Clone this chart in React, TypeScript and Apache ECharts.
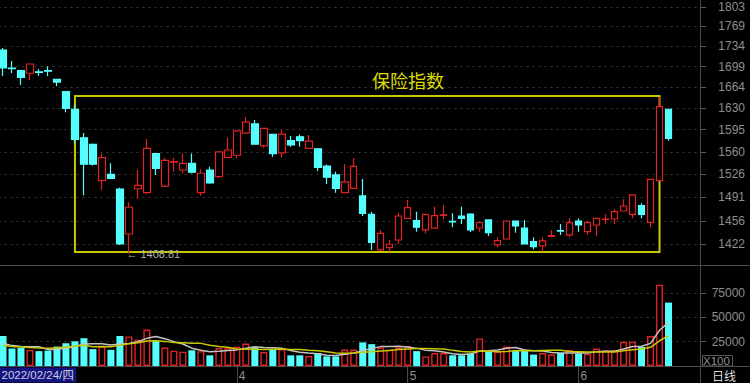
import React, { useEffect, useRef } from "react";
import * as echarts from "echarts";

// ---- data ----
const dates = [
  "2022-02-24", "2022-02-25", "2022-02-28",
  "2022-03-01", "2022-03-02", "2022-03-03", "2022-03-04", "2022-03-07", "2022-03-08", "2022-03-09", "2022-03-10", "2022-03-11",
  "2022-03-14", "2022-03-15", "2022-03-16", "2022-03-17", "2022-03-18", "2022-03-21", "2022-03-22", "2022-03-23", "2022-03-24",
  "2022-03-25", "2022-03-28", "2022-03-29", "2022-03-30", "2022-03-31",
  "2022-04-01", "2022-04-06", "2022-04-07", "2022-04-08", "2022-04-11", "2022-04-12", "2022-04-13", "2022-04-14", "2022-04-15",
  "2022-04-18", "2022-04-19", "2022-04-20", "2022-04-21", "2022-04-22", "2022-04-25", "2022-04-26", "2022-04-27", "2022-04-28",
  "2022-04-29",
  "2022-05-05", "2022-05-06", "2022-05-09", "2022-05-10", "2022-05-11", "2022-05-12", "2022-05-13", "2022-05-16", "2022-05-17",
  "2022-05-18", "2022-05-19", "2022-05-20", "2022-05-23", "2022-05-24", "2022-05-25", "2022-05-26", "2022-05-27", "2022-05-30",
  "2022-05-31",
  "2022-06-01", "2022-06-02", "2022-06-06", "2022-06-07", "2022-06-08", "2022-06-09", "2022-06-10", "2022-06-13", "2022-06-14",
  "2022-06-15", "2022-06-16",
];

const opens = [
  1727.3, 1696.5, 1691.9, 1687.6, 1690.0, 1692.0, 1677.4, 1656.8, 1627.9, 1582.2,
  1571.6, 1515.7, 1525.4, 1503.1, 1437.0, 1503.5, 1497.6, 1557.4, 1507.5, 1544.0,
  1532.0, 1542.0, 1497.6, 1532.0, 1521.7, 1551.5, 1554.7, 1589.6, 1604.2, 1569.4,
  1587.5, 1558.3, 1577.5, 1583.8, 1565.4, 1564.8, 1538.0, 1524.4, 1497.6, 1504.1,
  1492.7, 1465.6, 1414.2, 1417.5, 1428.4, 1459.7, 1456.2, 1442.8, 1445.3, 1464.0,
  1455.3, 1463.1, 1466.0, 1445.6, 1457.3, 1421.3, 1429.8, 1455.8, 1445.3, 1426.0,
  1419.9, 1433.6, 1442.0, 1435.6, 1455.8, 1440.3, 1450.0, 1458.0, 1458.7, 1470.4,
  1465.6, 1478.2, 1453.9, 1515.7, 1627.9,
];
const closes = [
  1696.5, 1695.5, 1680.8, 1703.3, 1689.0, 1691.0, 1672.8, 1629.5, 1579.7, 1540.9,
  1540.9, 1551.0, 1519.3, 1422.7, 1475.9, 1508.6, 1565.4, 1534.6, 1546.9, 1545.0,
  1542.0, 1528.5, 1527.0, 1512.3, 1560.0, 1562.9, 1593.0, 1607.0, 1572.1, 1597.2,
  1557.4, 1588.0, 1570.8, 1577.5, 1577.0, 1536.1, 1520.9, 1504.1, 1513.8, 1537.6,
  1467.0, 1425.1, 1438.0, 1422.3, 1463.1, 1475.3, 1446.7, 1465.6, 1463.6, 1464.6,
  1454.5, 1459.7, 1442.8, 1453.6, 1438.9, 1427.4, 1455.8, 1448.5, 1422.7, 1418.9,
  1427.0, 1434.6, 1441.2, 1453.3, 1450.0, 1453.9, 1459.7, 1458.7, 1469.4, 1477.8,
  1494.2, 1465.6, 1517.8, 1632.1, 1581.3,
];
const lows = [
  1683.0, 1688.1, 1667.9, 1676.2, 1683.5, 1683.0, 1665.9, 1623.0, 1573.5, 1493.9,
  1539.0, 1501.6, 1518.0, 1421.3, 1408.81, 1489.0, 1495.7, 1524.4, 1506.0, 1529.4,
  1527.0, 1527.0, 1492.9, 1511.0, 1520.0, 1550.0, 1550.0, 1589.0, 1571.0, 1566.3,
  1552.5, 1551.5, 1568.0, 1568.0, 1565.0, 1530.6, 1510.5, 1497.6, 1497.0, 1503.0,
  1463.0, 1414.2, 1413.0, 1411.8, 1422.7, 1459.0, 1440.3, 1438.0, 1445.0, 1458.3,
  1446.7, 1451.5, 1440.0, 1440.3, 1434.1, 1418.0, 1429.0, 1438.9, 1422.0, 1415.2,
  1411.8, 1432.3, 1435.6, 1432.3, 1440.3, 1435.6, 1434.1, 1451.5, 1451.5, 1470.0,
  1459.7, 1459.7, 1446.7, 1515.0, 1577.5,
];
const highs = [
  1730.7, 1708.4, 1693.0, 1704.0, 1694.8, 1699.0, 1678.0, 1658.0, 1635.0, 1589.6,
  1573.0, 1556.5, 1542.3, 1505.0, 1483.3, 1532.0, 1580.1, 1558.0, 1551.0, 1551.0,
  1557.4, 1557.4, 1533.0, 1537.0, 1561.0, 1582.0, 1594.0, 1615.3, 1610.6, 1598.0,
  1588.0, 1594.5, 1585.0, 1587.5, 1586.6, 1566.0, 1540.5, 1529.4, 1541.0, 1550.0,
  1518.3, 1469.4, 1442.8, 1428.4, 1468.0, 1486.7, 1469.4, 1466.0, 1476.8, 1479.2,
  1467.0, 1476.8, 1467.0, 1454.0, 1458.0, 1432.3, 1456.5, 1456.5, 1457.3, 1432.3,
  1432.3, 1442.8, 1451.5, 1460.6, 1459.7, 1454.5, 1460.0, 1465.6, 1473.0, 1487.7,
  1495.0, 1481.8, 1518.5, 1648.1, 1629.0,
];
const volumes = [
  30900, 18000, 18500, 16600, 15300, 15800, 20000, 23500, 25400, 28600,
  17400, 20000, 16600, 30900, 30500, 27000, 37500, 26100, 19000, 15800,
  14800, 16200, 15300, 11000, 18500, 18500, 19700, 23200, 19400, 14400,
  17000, 17500, 11000, 11000, 10300, 13400, 9900, 9900, 17000, 17000,
  24300, 22500, 19000, 17000, 19000, 20500, 15300, 9900, 13400, 13400,
  11000, 11000, 13000, 28400, 15500, 14800, 20000, 16200, 16200, 11800,
  13400, 12000, 13400, 16600, 13000, 12400, 18000, 16200, 16200, 24900,
  24900, 19500, 30900, 83800, 65300,
];
const volumeMA5 = [
  23500, 21000, 20000, 19800, 19860, 16840, 17240, 18240, 20000, 22660,
  22980, 22980, 21600, 22700, 23080, 25000, 28500, 30400, 28020, 25080,
  22640, 18380, 16220, 14620, 15160, 15900, 16600, 18180, 19860, 19040,
  18740, 18300, 15860, 14180, 13360, 12640, 11120, 10900, 12100, 13440,
  15620, 18140, 19960, 19960, 20360, 19600, 18160, 16340, 15620, 14500,
  12600, 11740, 12360, 15360, 15780, 16540, 18340, 18980, 16540, 15800,
  15520, 13920, 13360, 13440, 13680, 13480, 14680, 15240, 15160, 17540,
  20040, 20340, 23280, 36800, 44880,
];
const volumeMA10 = [
  21400, 20200, 19500, 19000, 18600, 18400, 18800, 19500, 20300, 21260,
  19910, 20110, 19920, 21350, 22870, 23990, 25740, 26000, 25360, 24080,
  23820, 23440, 23310, 21320, 20120, 19270, 17490, 17200, 17240, 17100,
  17320, 17450, 17020, 17020, 16200, 15690, 14710, 13380, 13140, 13400,
  14130, 14630, 15430, 16030, 16900, 17610, 18150, 18150, 17790, 17430,
  16100, 14950, 14350, 15490, 15140, 14570, 15040, 15670, 15950, 15790,
  16030, 16130, 16170, 14990, 14740, 14500, 14300, 14300, 14300, 15610,
  16760, 17510, 19260, 25980, 31210,
];

const priceTicks = [1422, 1456, 1491, 1526, 1560, 1595, 1630, 1664, 1699, 1734, 1769, 1803];
const priceRange = [1393.1, 1815.9];
const volumeTicks = [25000, 50000, 75000];
const volumeMax = 103000;
const emptySlots = 3;
// annotation box drawn on the chart (index range and price range)
const boxIndexRange = [8, 73];
const boxPriceRange = [1411.4, 1649.7];
const title = "保险指数";
const periodLabel = "日线";
const volumeUnit = "X100";
const weekdays = ["日", "一", "二", "三", "四", "五", "六"];

// ---- styles ----
const UP = "#e02222";
const DOWN = "#55ffff";
const GRID_LINE = "#3c3c3c";
const FRAME = "#4a4a4a";
const LABEL = "#8e8e8e";
const FONT = "'Liberation Sans', Arial, sans-serif";
const CJK = "'Noto Sans CJK SC', sans-serif";

export default function App() {
  const ref = useRef<HTMLDivElement>(null);
  useEffect(() => {
    document.body.style.margin = "0";
    document.body.style.background = "#000";
    const chart = echarts.init(ref.current!, null, { renderer: "svg" });

    const categories = [...dates, ...Array(emptySlots).fill("")];
    const monthStart = (i: number) =>
      i > 0 && i < dates.length && dates[i].slice(5, 7) !== dates[i - 1].slice(5, 7);

    const candleData = opens.map((o, i) => [
      Math.log(o),
      Math.log(closes[i]),
      Math.log(lows[i]),
      Math.log(highs[i]),
    ]);
    const volumeData = volumes.map((v, i) => {
      const up = closes[i] >= opens[i];
      return {
        value: v,
        itemStyle: up
          ? { color: "#000", borderColor: UP, borderWidth: 1.4 }
          : { color: DOWN, borderColor: DOWN, borderWidth: 0 },
      };
    });
    const lowValue = Math.min(...lows);
    const lowIndex = lows.indexOf(lowValue);
    const d0 = new Date(dates[0] + "T00:00:00");
    const firstDateLabel = dates[0].replace(/-/g, "/") + "/" + weekdays[d0.getDay()];

    const option: any = {
      animation: false,
      backgroundColor: "#000",
      textStyle: { fontFamily: FONT },
      grid: [
        { left: -1.5, right: 50, top: 0, height: 265, outerBoundsMode: "none" },
        { left: -1.5, right: 50, top: 266, height: 100, outerBoundsMode: "none" },
      ],
      xAxis: [
        {
          type: "category",
          gridIndex: 0,
          data: categories,
          boundaryGap: true,
          axisLine: { show: false },
          axisTick: { show: false },
          axisLabel: { show: false },
          splitLine: { show: false },
        },
        {
          type: "category",
          gridIndex: 1,
          data: categories,
          boundaryGap: true,
          axisLine: { show: false },
          axisTick: {
            show: true,
            alignWithLabel: true,
            interval: (i: number) => monthStart(i),
            length: 17,
            lineStyle: { color: FRAME, width: 1 },
          },
          axisLabel: {
            show: true,
            interval: (i: number) => monthStart(i),
            showMinLabel: false,
            formatter: (v: string, i: number) => (monthStart(i) ? String(Number(v.slice(5, 7))) : ""),
            align: "left",
            margin: 4,
            padding: [0, 0, 0, 2],
            color: LABEL,
            fontSize: 12,
            fontFamily: FONT,
          },
          splitLine: { show: false },
        },
      ],
      yAxis: [
        {
          type: "value",
          gridIndex: 0,
          position: "right",
          min: Math.log(priceRange[0]),
          max: Math.log(priceRange[1]),
          axisLine: { show: false },
          axisTick: {
            show: true,
            customValues: priceTicks.map((t) => Math.log(t)),
            length: 6,
            lineStyle: { color: "#5a5a5a" },
          },
          axisLabel: {
            show: true,
            customValues: priceTicks.map((t) => Math.log(t)),
            formatter: (v: number) => String(Math.round(Math.exp(v))),
            align: "right",
            margin: 45,
            color: LABEL,
            fontSize: 12,
            fontFamily: FONT,
          },
          splitLine: {
            show: true,
            lineStyle: { color: GRID_LINE, type: [2, 4], width: 1 },
          },
        },
        {
          type: "value",
          gridIndex: 1,
          position: "right",
          min: 0,
          max: volumeMax,
          axisLine: { show: false },
          axisTick: {
            show: true,
            customValues: volumeTicks,
            length: 6,
            lineStyle: { color: "#5a5a5a" },
          },
          axisLabel: {
            show: true,
            customValues: volumeTicks,
            formatter: (v: number) => String(v),
            align: "right",
            margin: 45,
            color: LABEL,
            fontSize: 12,
            fontFamily: FONT,
          },
          splitLine: {
            show: true,
            lineStyle: { color: GRID_LINE, type: [2, 4], width: 1 },
          },
        },
      ],
      series: [
        {
          type: "candlestick",
          xAxisIndex: 0,
          yAxisIndex: 0,
          data: candleData,
          barWidth: 7,
          itemStyle: {
            color: "#000",
            color0: DOWN,
            borderColor: UP,
            borderColor0: DOWN,
            borderWidth: 1.2,
          },
          markArea: {
            silent: true,
            itemStyle: { color: "rgba(0,0,0,0)", borderColor: "#c8c800", borderWidth: 2 },
            label: { show: false },
            data: [
              [
                { coord: [boxIndexRange[0], Math.log(boxPriceRange[1])] },
                { coord: [boxIndexRange[1], Math.log(boxPriceRange[0])] },
              ],
            ],
          },
          markPoint: {
            silent: true,
            symbol: "circle",
            symbolSize: 1,
            itemStyle: { color: "rgba(0,0,0,0)" },
            label: {
              show: true,
              position: "right",
              distance: -3,
              formatter: "\u2190 " + lowValue.toFixed(2),
              color: "#b0b0b0",
              fontSize: 11,
              fontFamily: FONT,
            },
            data: [{ coord: [lowIndex, Math.log(lowValue)] }],
          },
        },
        {
          type: "bar",
          xAxisIndex: 1,
          yAxisIndex: 1,
          data: volumeData,
          barWidth: 7,
        },
        {
          type: "line",
          xAxisIndex: 1,
          yAxisIndex: 1,
          data: volumeMA5,
          symbol: "none",
          lineStyle: { color: "#c4c4c4", width: 1.5 },
          z: 5,
        },
        {
          type: "line",
          xAxisIndex: 1,
          yAxisIndex: 1,
          data: volumeMA10,
          symbol: "none",
          lineStyle: { color: "#c8c800", width: 1.5 },
          z: 5,
        },
      ],
      graphic: [
        { type: "line", shape: { x1: 700.5, y1: 0, x2: 700.5, y2: 383 }, style: { stroke: FRAME, lineWidth: 1 }, z: 10 },
        { type: "line", shape: { x1: 0, y1: 265.5, x2: 750, y2: 265.5 }, style: { stroke: FRAME, lineWidth: 1 }, z: 10 },
        { type: "line", shape: { x1: 0, y1: 366.5, x2: 750, y2: 366.5 }, style: { stroke: FRAME, lineWidth: 1 }, z: 10 },
        {
          type: "text",
          x: 408,
          y: 80,
          style: {
            text: title,
            fill: "#dede00",
            fontSize: 18,
            fontFamily: CJK,
            textAlign: "center",
            textVerticalAlign: "middle",
          },
          z: 10,
        },
        {
          type: "text",
          x: 0,
          y: 367.5,
          style: {
            text: firstDateLabel,
            fill: "#d0d0e0",
            fontSize: 11.5,
            fontFamily: FONT,
            lineHeight: 15,
            backgroundColor: "#14147e",
            padding: [0, 2, 0, 1.5],
            textVerticalAlign: "top",
          },
          z: 11,
        },
        {
          type: "rect",
          shape: { x: 702.5, y: 355.5, width: 30, height: 10.5 },
          style: { fill: "none", stroke: "#5a5a5a", lineWidth: 1 },
          z: 10,
        },
        {
          type: "text",
          x: 703,
          y: 361,
          style: { text: volumeUnit, fill: LABEL, fontSize: 11.5, fontFamily: FONT, textVerticalAlign: "middle" },
          z: 11,
        },
        {
          type: "text",
          x: 724,
          y: 375.5,
          style: {
            text: periodLabel,
            fill: "#dcdcdc",
            fontSize: 12,
            fontFamily: CJK,
            textAlign: "center",
            textVerticalAlign: "middle",
          },
          z: 11,
        },
      ],
    };

    chart.setOption(option);
    return () => chart.dispose();
  }, []);
  return <div ref={ref} style={{ width: 750, height: 383, background: "#000" }} />;
}
